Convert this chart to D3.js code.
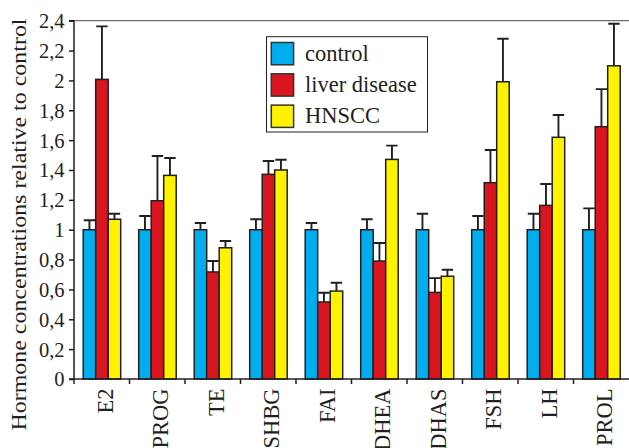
<!DOCTYPE html>
<html>
<head>
<meta charset="utf-8">
<script src="https://cdn.jsdelivr.net/npm/d3@7"></script>
<style>
  body { margin: 0; background: #fff; }
  svg { display: block; }
  svg text { font-family: 'Liberation Serif', 'DejaVu Serif', serif; }
</style>
</head>
<body>
<svg id="chart"></svg>
<script>
// hormone categories and series (relative to control)
const categories = ['E2', 'PROG', 'TE', 'SHBG', 'FAI', 'DHEA', 'DHAS', 'FSH', 'LH', 'PROL'];
const seriesNames = ['control', 'liver disease', 'HNSCC'];
const controlVals = [1, 1, 1, 1, 1, 1, 1, 1, 1, 1];
const controlErr = [1.063, 1.092, 1.045, 1.07, 1.045, 1.07, 1.107, 1.092, 1.107, 1.143];
const liverVals = [2.007, 1.194, 0.717, 1.371, 0.516, 0.79, 0.58, 1.315, 1.163, 1.69];
const liverErr = [2.362, 1.494, 0.79, 1.46, 0.578, 0.911, 0.676, 1.534, 1.306, 1.942];
const hnsccVals = [1.07, 1.364, 0.879, 1.40, 0.589, 1.471, 0.688, 1.991, 1.619, 2.098];
const hnsccErr = [1.107, 1.48, 0.924, 1.469, 0.645, 1.563, 0.732, 2.279, 1.768, 2.38];
const yTicks = [0, 0.2, 0.4, 0.6, 0.8, 1, 1.2, 1.4, 1.6, 1.8, 2, 2.2, 2.4];

const colors = ['#00aeef', '#d9161f', '#fff200'];
const outline = '#231f20';
const serif = "'Liberation Serif', 'DejaVu Serif', serif";

const width = 629, height = 448;
const plotLeft = 74, plotRight = 629, plotTop = 20.7, plotBottom = 379;

const svg = d3.select('#chart').attr('width', width).attr('height', height);

const x = d3.scaleBand().domain(categories).range([plotLeft, plotRight]).paddingInner(0).paddingOuter(0);
const inner = d3.scaleBand().domain(seriesNames).range([9.2, x.bandwidth() - 8.8]).padding(0);
const y = d3.scaleLinear().domain([0, 2.4]).range([plotBottom, plotTop]);

const rows = categories.map((c, i) => ({
  cat: c,
  bars: [
    { s: seriesNames[0], v: controlVals[i], e: controlErr[i] },
    { s: seriesNames[1], v: liverVals[i], e: liverErr[i] },
    { s: seriesNames[2], v: hnsccVals[i], e: hnsccErr[i] }
  ]
}));

// top frame line
svg.append('line')
  .attr('x1', plotLeft).attr('x2', plotRight)
  .attr('y1', plotTop).attr('y2', plotTop)
  .attr('stroke', '#6d6e71')
  .attr('stroke-width', 1.2);

const groups = svg.selectAll('g.grp')
  .data(rows)
  .join('g')
  .attr('class', 'grp')
  .attr('transform', d => `translate(${x(d.cat)},0)`);

// error bars (upward only)
groups.selectAll('path.err')
  .data(d => d.bars)
  .join('path')
  .attr('class', 'err')
  .attr('d', d => {
    const cx = inner(d.s) + inner.bandwidth() / 2;
    return `M${cx},${y(d.v)}V${y(d.e)}M${cx - 5.7},${y(d.e)}H${cx + 5.7}`;
  })
  .attr('fill', 'none')
  .attr('stroke', outline)
  .attr('stroke-width', 1.9);

groups.selectAll('rect')
  .data(d => d.bars)
  .join('rect')
  .attr('x', d => inner(d.s))
  .attr('y', d => y(d.v))
  .attr('width', inner.bandwidth())
  .attr('height', d => y(0) - y(d.v))
  .attr('fill', (d, i) => colors[i])
  .attr('stroke', outline)
  .attr('stroke-width', 1.5);

// y axis
const yAxis = d3.axisLeft(y)
  .tickValues(yTicks)
  .tickSize(5)
  .tickFormat(d => String(+d.toFixed(1)).replace('.', ','));
const yG = svg.append('g').attr('transform', `translate(${plotLeft},0)`).call(yAxis);
yG.attr('font-family', serif).attr('font-size', 20.5);
yG.select('.domain').attr('stroke', outline).attr('stroke-width', 1.5).attr('d', `M-5,${plotTop}H0V${plotBottom}H-5`);
yG.selectAll('.tick line').attr('stroke', outline).attr('stroke-width', 1.5);
yG.selectAll('.tick text')
  .attr('x', -9.5)
  .attr('dy', '0.34em')
  .attr('fill', '#231f20');

// x axis line and band ticks
const xG = svg.append('g').attr('font-family', serif).attr('font-size', 22.5);
xG.append('line')
  .attr('x1', plotLeft).attr('x2', plotRight)
  .attr('y1', plotBottom).attr('y2', plotBottom)
  .attr('stroke', outline).attr('stroke-width', 1.5);
xG.selectAll('line.bt')
  .data(categories)
  .join('line')
  .attr('class', 'bt')
  .attr('x1', d => x(d)).attr('x2', d => x(d))
  .attr('y1', plotBottom).attr('y2', plotBottom + 5)
  .attr('stroke', outline).attr('stroke-width', 1.5);
// labels run off the bottom edge, as in the source figure
xG.selectAll('text')
  .data(categories)
  .join('text')
  .attr('transform', d => `translate(${x(d) + x.bandwidth() / 2 + 11},${plotBottom + 9.5}) rotate(-90)`)
  .attr('text-anchor', 'end')
  .attr('fill', '#231f20')
  .text(d => d);

// y axis title
svg.append('text')
  .attr('transform', `translate(25.5,${(18 + 431) / 2}) rotate(-90)`)
  .attr('text-anchor', 'middle')
  .attr('fill', '#231f20')
  .attr('font-family', serif)
  .attr('font-size', 20)
  .attr('textLength', 412)
  .attr('lengthAdjust', 'spacingAndGlyphs')
  .text('Hormone concentrations relative to control');

// legend
const legend = svg.append('g').attr('transform', 'translate(266.5,36.7)');
legend.append('rect')
  .attr('width', 161).attr('height', 95.3)
  .attr('fill', '#fff')
  .attr('stroke', '#231f20')
  .attr('stroke-width', 1);
const li = legend.selectAll('g.li')
  .data(seriesNames)
  .join('g')
  .attr('class', 'li')
  .attr('transform', (d, i) => `translate(4.8,${5.8 + i * 31.3})`);
li.append('rect')
  .attr('width', 22.3).attr('height', 22.3)
  .attr('fill', (d, i) => colors[i])
  .attr('stroke', '#333')
  .attr('stroke-width', 1.5);
li.append('text')
  .attr('x', 33.7)
  .attr('y', 18.3)
  .attr('fill', '#231f20')
  .attr('font-family', serif)
  .attr('font-size', 22.5)
  .text(d => d);
</script>
</body>
</html>
